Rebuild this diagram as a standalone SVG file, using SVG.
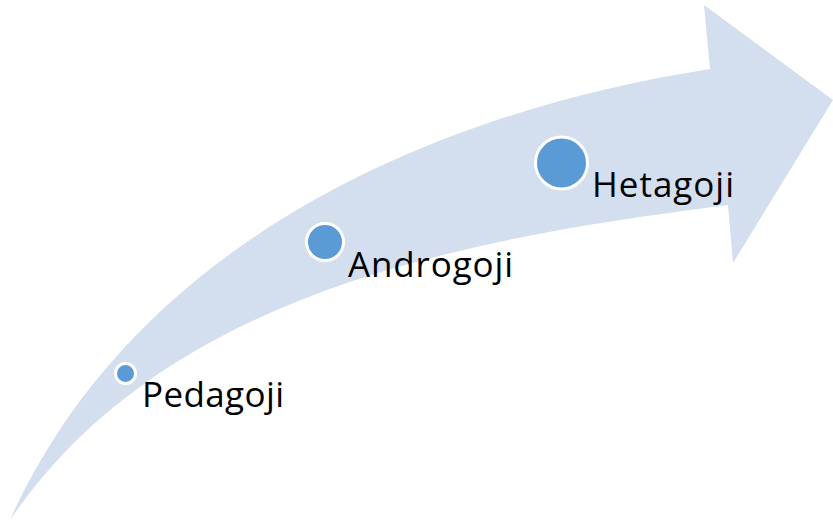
<svg xmlns="http://www.w3.org/2000/svg" width="833" height="523" viewBox="0 0 833 523">
  <style>
    .band { fill: #D3DEEF; stroke: none; }
    .dot { fill: #5B9BD5; stroke: #FFFFFF; stroke-width: 3; }
    .lbl { font-family: "Open Sans", "Liberation Sans", sans-serif; font-size: 35px; fill: #000000; }
  </style>
  <rect width="833" height="523" fill="#FFFFFF"/>
  <g id="connectors">
    <path class="band" d="M10,520 C134,244 429,113 710,69 L704,5 L833,100 L733,263 L728,205 C472,238 167,289 10,520 Z"/>
  </g>
  <g id="node-pedagoji">
    <circle class="dot" cx="125.5" cy="373.5" r="10"/>
    <text class="lbl" x="142" y="407" textLength="142">Pedagoji</text>
  </g>
  <g id="node-androgoji">
    <circle class="dot" cx="325" cy="242" r="18.5"/>
    <text class="lbl" x="348" y="277" textLength="165">Androgoji</text>
  </g>
  <g id="node-hetagoji">
    <circle class="dot" cx="561.5" cy="163" r="26"/>
    <text class="lbl" x="592" y="197" textLength="142">Hetagoji</text>
  </g>
</svg>
